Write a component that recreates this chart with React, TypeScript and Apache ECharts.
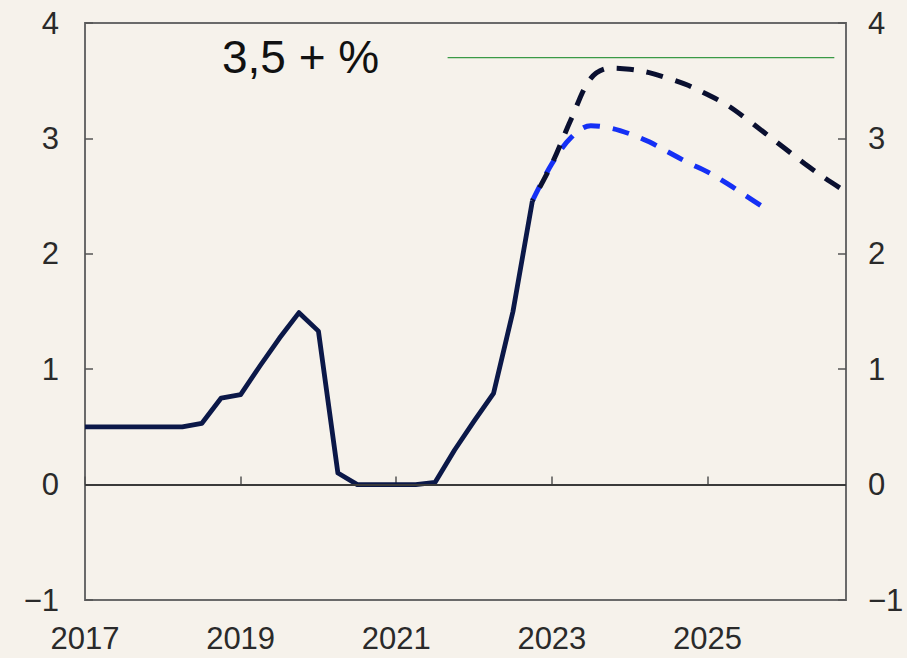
import React, { useEffect, useRef } from "react";
import * as echarts from "echarts";

// Quarterly observations (x = year fraction), policy rate path
const historyYears = [
  2017, 2017.25, 2017.5, 2017.75, 2018, 2018.25, 2018.5, 2018.75,
  2019, 2019.25, 2019.5, 2019.75, 2020, 2020.25, 2020.5, 2020.75,
  2021, 2021.25, 2021.5, 2021.75, 2022, 2022.25, 2022.5, 2022.75,
];
const historyValues = [
  0.5, 0.5, 0.5, 0.5, 0.5, 0.5, 0.53, 0.75,
  0.78, 1.03, 1.27, 1.49, 1.33, 0.1, 0.0, 0.0,
  0.0, 0.0, 0.02, 0.3, 0.55, 0.79, 1.5, 2.46,
];

// Current forecast (black dashed)
const forecastYears = [
  2022.75, 2023, 2023.25, 2023.5, 2023.75, 2024, 2024.25, 2024.5, 2024.75,
  2025, 2025.25, 2025.5, 2025.75, 2026, 2026.25, 2026.5, 2026.75,
];
const forecastValues = [
  2.46, 2.78, 3.17, 3.52, 3.61, 3.6, 3.57, 3.52, 3.46,
  3.38, 3.29, 3.17, 3.04, 2.91, 2.78, 2.66, 2.55,
];

// Previous forecast (blue dashed)
const previousYears = [
  2022.75, 2023, 2023.25, 2023.5, 2023.75, 2024, 2024.25, 2024.5, 2024.75,
  2025, 2025.25, 2025.5, 2025.75,
];
const previousValues = [
  2.46, 2.78, 3.01, 3.11, 3.09, 3.04, 2.97, 2.88, 2.79,
  2.71, 2.61, 2.5, 2.39,
];

// Reference line
const refYears = [2021.66, 2026.63];
const refValues = [3.7, 3.7];
const refLabel = "3,5 + %";

const xMin = 2017;
const xMax = 2026.78;
const yMin = -1;
const yMax = 4;

const pairs = (xs: number[], ys: number[]) => xs.map((x, i) => [x, ys[i]]);

export default function App() {
  const ref = useRef<HTMLDivElement>(null);
  useEffect(() => {
    if (!ref.current) return;
    const chart = echarts.init(ref.current, undefined, { renderer: "svg" });
    const font = "'Liberation Sans', Arial, Helvetica, sans-serif";
    const yAxisCommon = {
      type: "value",
      min: yMin,
      max: yMax,
      interval: 1,
      axisLine: { show: true, lineStyle: { color: "#6a6a6a", width: 2 } },
      axisTick: { show: true, inside: true, length: 8, lineStyle: { color: "#555", width: 1.5 } },
      splitLine: { show: false },
      axisLabel: {
        color: "#2a2a2a",
        fontSize: 31,
        fontFamily: font,
        formatter: (v: number) => (v < 0 ? "\u2212" + Math.abs(v) : String(v)),
      },
    };
    chart.setOption({
      animation: false,
      backgroundColor: "#f6f2eb",
      grid: {
        left: 85,
        right: 61,
        top: 23,
        bottom: 58,
        show: true,
        borderColor: "#6a6a6a",
        borderWidth: 2,
        backgroundColor: "transparent",
      },
      xAxis: {
        type: "value",
        min: xMin,
        max: xMax,
        interval: 2,
        axisLine: { show: true, lineStyle: { color: "#6a6a6a", width: 2 } },
        axisTick: { show: true, inside: true, length: 8, lineStyle: { color: "#555", width: 1.5 } },
        splitLine: { show: false },
        axisLabel: {
          color: "#2a2a2a",
          fontSize: 31,
          fontFamily: font,
          margin: 23,
          showMaxLabel: false,
          formatter: (v: number) => (Number.isInteger(v) ? String(v) : ""),
        },
      },
      yAxis: [
        { ...yAxisCommon, position: "left", axisLabel: { ...yAxisCommon.axisLabel, margin: 26 } },
        { ...yAxisCommon, position: "right", axisLabel: { ...yAxisCommon.axisLabel, margin: 22 } },
      ],
      graphic: [
        {
          type: "text",
          left: 222,
          top: 34,
          style: { text: refLabel, fontSize: 46, fontFamily: font, fill: "#111" },
        },
      ],
      series: [
        {
          type: "line",
          data: pairs(refYears, refValues),
          showSymbol: false,
          lineStyle: { color: "#3a9a46", width: 1.2 },
          silent: true,
          z: 1,
        },
        {
          type: "line",
          data: pairs(previousYears, previousValues),
          showSymbol: false,
          smooth: 0.35,
          lineStyle: { color: "#1530f5", width: 5, type: [17, 13], cap: "butt" },
          z: 2,
        },
        {
          type: "line",
          data: pairs(forecastYears, forecastValues),
          showSymbol: false,
          smooth: 0.35,
          lineStyle: { color: "#0a1030", width: 5, type: [17, 13], dashOffset: 15, cap: "butt" },
          z: 3,
        },
        {
          type: "line",
          data: pairs(historyYears, historyValues),
          showSymbol: false,
          lineStyle: { color: "#0b1848", width: 4.8, join: "round" },
          z: 4,
          markLine: {
            silent: true,
            symbol: "none",
            label: { show: false },
            lineStyle: { color: "#3a3a3a", width: 2, type: "solid" },
            data: [{ yAxis: 0 }],
          },
        },
      ],
    });
    return () => chart.dispose();
  }, []);
  return (
    <div
      ref={ref}
      style={{ position: "fixed", left: 0, top: 0, width: 907, height: 658, background: "#f6f2eb" }}
    />
  );
}
